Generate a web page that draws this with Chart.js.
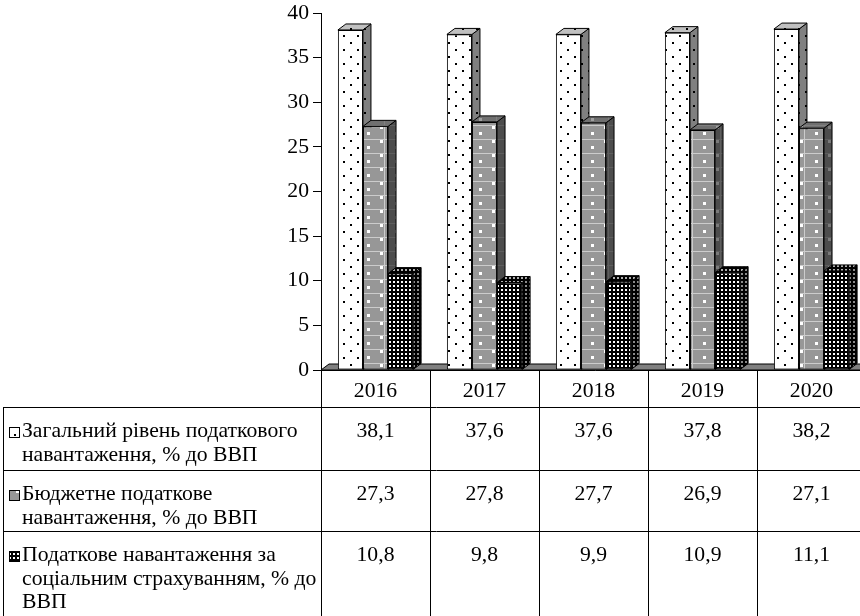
<!DOCTYPE html>
<html lang="uk">
<head>
<meta charset="utf-8">
<title>Податкове навантаження</title>
<script src="https://cdn.jsdelivr.net/npm/chart.js@4.4.1/dist/chart.umd.min.js"></script>
<style>
  html, body { margin: 0; padding: 0; background: #fff; overflow: hidden; }
  #wrap { width: 870px; height: 616px; }
</style>
</head>
<body>
<div id="wrap"><canvas id="taxChart" width="870" height="616"></canvas></div>
<script>
// роки
const years = ['2016', '2017', '2018', '2019', '2020'];

// показники, % до ВВП
const totalBurden = [38.1, 37.6, 37.6, 37.8, 38.2];
const budgetBurden = [27.3, 27.8, 27.7, 26.9, 27.1];
const socialBurden = [10.8, 9.8, 9.9, 10.9, 11.1];

// підписи рядів (як у таблиці, по рядках)
const totalLabel = ['Загальний рівень податкового', 'навантаження, % до ВВП'];
const budgetLabel = ['Бюджетне податкове', 'навантаження, % до ВВП'];
const socialLabel = ['Податкове навантаження за', 'соціальним страхуванням, % до', 'ВВП'];

const yTicks = [0, 5, 10, 15, 20, 25, 30, 35, 40];

const FONT = '"Liberation Serif", "Times New Roman", serif';
const DX = 8, DY = -6; // глибина "3D" стовпців

// --- візерунки заливки ---
function makeTile(w, h, draw) {
  const c = document.createElement('canvas');
  c.width = w; c.height = h;
  const g = c.getContext('2d');
  draw(g);
  return document.getElementById('taxChart').getContext('2d').createPattern(c, 'repeat');
}

function dots(bg) {
  return makeTile(14, 14, g => {
    g.fillStyle = bg; g.fillRect(0, 0, 14, 14);
    g.fillStyle = '#000';
    g.fillRect(0, 0, 2, 2);
    g.fillRect(7, 7, 2, 2);
  });
}

function bricks(bg, line, sq) {
  return makeTile(28, 14, g => {
    g.fillStyle = bg; g.fillRect(0, 0, 28, 14);
    g.fillStyle = line;
    g.fillRect(0, 13, 28, 1);
    g.fillRect(20, 0, 1, 14);
    g.fillStyle = sq;
    g.fillRect(3, 6, 3, 3);
    g.fillRect(16, 0, 3, 3);
  });
}

function grid(bg, sq) {
  return makeTile(4, 4, g => {
    g.fillStyle = bg; g.fillRect(0, 0, 4, 4);
    g.fillStyle = sq;
    g.fillRect(1, 1, 2, 2);
  });
}

const faces = [
  { front: dots('#ffffff'), side: dots('#808080'), top: dots('#c0c0c0') },
  { front: bricks('#979797', '#cccccc', '#ffffff'), side: bricks('#4d4d4d', '#5e5e5e', '#7a7a7a'), top: bricks('#707070', '#808080', '#a0a0a0') },
  { front: grid('#000000', '#ffffff'), side: grid('#000000', '#8a8a8a'), top: grid('#000000', '#b0b0b0') }
];

function poly(ctx, pts, fill) {
  ctx.beginPath();
  ctx.moveTo(pts[0][0], pts[0][1]);
  for (let i = 1; i < pts.length; i++) ctx.lineTo(pts[i][0], pts[i][1]);
  ctx.closePath();
  ctx.fillStyle = fill;
  ctx.fill();
  ctx.stroke();
}

// підлога, бічні та верхні грані — під передніми гранями
const depthFaces = {
  id: 'depthFaces',
  beforeDatasetsDraw(chart) {
    const ctx = chart.ctx;
    const a = chart.chartArea;
    ctx.save();
    ctx.strokeStyle = '#000';
    ctx.lineWidth = 1;
    poly(ctx, [[a.left, a.bottom], [a.right + 10, a.bottom], [a.right + 10 + DX, a.bottom + DY], [a.left + DX, a.bottom + DY]], '#808080');
    chart.data.datasets.forEach((ds, i) => {
      chart.getDatasetMeta(i).data.forEach(bar => {
        const L = bar.x - bar.width / 2, R = bar.x + bar.width / 2;
        const T = bar.y, B = bar.base;
        poly(ctx, [[R, T], [R + DX, T + DY], [R + DX, B + DY], [R, B]], faces[i].side);
        poly(ctx, [[L, T], [R, T], [R + DX, T + DY], [L + DX, T + DY]], faces[i].top);
      });
    });
    ctx.restore();
  }
};

// таблиця даних під діаграмою
const dataTable = {
  id: 'dataTable',
  afterDraw(chart) {
    const ctx = chart.ctx;
    const a = chart.chartArea;
    const xs = chart.scales.x;
    const step = (a.right - a.left) / years.length;
    const rows = [407, 470, 531];
    const bottom = chart.height;
    const tableLeft = 3;

    ctx.save();
    ctx.strokeStyle = '#000';
    ctx.lineWidth = 1;
    ctx.beginPath();
    ctx.moveTo(a.left, a.bottom + 0.5); ctx.lineTo(chart.width, a.bottom + 0.5);
    rows.forEach(y => { ctx.moveTo(tableLeft, y + 0.5); ctx.lineTo(chart.width, y + 0.5); });
    ctx.moveTo(tableLeft + 0.5, rows[0]); ctx.lineTo(tableLeft + 0.5, bottom);
    years.forEach((y, i) => {
      const bx = Math.round(xs.getPixelForValue(i) - step / 2) + 0.5;
      ctx.moveTo(bx, a.bottom); ctx.lineTo(bx, bottom);
    });
    ctx.stroke();

    ctx.fillStyle = '#000';
    ctx.font = '21.7px ' + FONT;
    ctx.textAlign = 'center';
    ctx.textBaseline = 'alphabetic';
    years.forEach((y, i) => ctx.fillText(y, xs.getPixelForValue(i), 397));

    chart.data.datasets.forEach((ds, r) => {
      const top = rows[r];
      ctx.textAlign = 'center';
      ds.data.forEach((v, i) => {
        ctx.fillText(v.toFixed(1).replace('.', ','), xs.getPixelForValue(i), top + 30);
      });
      // ключ легенди
      ctx.fillStyle = faces[r].front;
      ctx.fillRect(9, top + 20, 10, 10);
      ctx.strokeRect(9.5, top + 20.5, 10, 10);
      ctx.fillStyle = '#000';
      ctx.textAlign = 'left';
      ds.label.forEach((line, k) => ctx.fillText(line, 22, top + 30 + k * 23.5));
    });
    ctx.restore();
  }
};

const datasets = [
  { label: totalLabel, data: totalBurden },
  { label: budgetLabel, data: budgetBurden },
  { label: socialLabel, data: socialBurden }
].map((d, i) => ({
  ...d,
  backgroundColor: faces[i].front,
  borderColor: '#000',
  borderWidth: 1,
  borderSkipped: false,
  barPercentage: 1.0,
  categoryPercentage: 0.69,
  order: 0
}));

const config = {
  type: 'bar',
  data: { labels: years, datasets },
  options: {
    responsive: false,
    animation: false,
    events: [],
    layout: { padding: { left: 0, top: 0, right: 4, bottom: 246 } },
    plugins: { legend: { display: false }, tooltip: { enabled: false } },
    scales: {
      x: { display: false },
      y: {
        min: 0,
        max: 40,
        afterFit: scale => { scale.width = 321; scale.paddingTop = 13; },
        afterBuildTicks: scale => { scale.ticks = yTicks.map(v => ({ value: v })); },
        ticks: { color: '#000', font: { family: FONT, size: 21.7 }, padding: 4 },
        grid: { display: true, drawOnChartArea: false, tickLength: 8, color: '#000' },
        border: { display: true, color: '#000', width: 1 }
      }
    }
  },
  plugins: [depthFaces, dataTable]
};

const canvas = document.getElementById('taxChart');
const taxChart = new Chart(canvas, config);
</script>
</body>
</html>
